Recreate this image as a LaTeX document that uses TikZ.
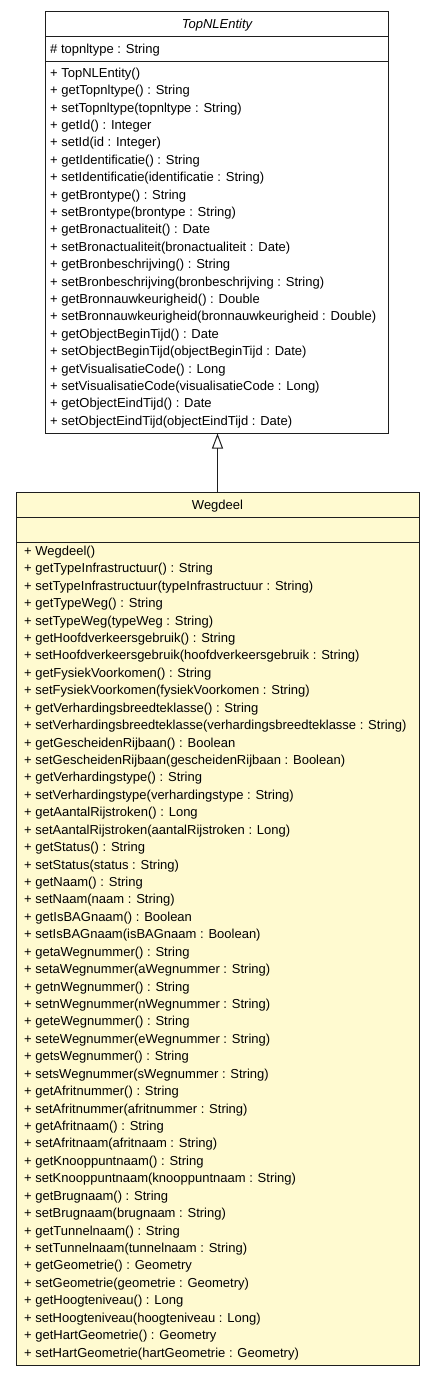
\documentclass[tikz,border=0pt]{standalone}
\usepackage{fontspec}
\setmainfont{Liberation Sans}
\usepackage{tikz}
\usetikzlibrary{arrows.meta}
\definecolor{ClassFill}{RGB}{255, 250, 208}
\definecolor{ClassLine}{RGB}{30, 30, 30}

\tikzset{
  classbox/.style={draw=ClassLine, line width=1pt, rectangle, inner sep=0pt},
  member/.style={anchor=base west, inner sep=0pt, font=\fontsize{13}{15}\selectfont},
  classname/.style={anchor=base, inner sep=0pt, font=\fontsize{13}{15}\selectfont},
}

\begin{document}
\begin{tikzpicture}[x=1pt, y=-1pt]
    %% Background
    \draw[draw=none] (0,0) rectangle (433,1376);

    %% TopNLEntity
    \node[classbox, fill=white, minimum width=343pt, minimum height=422pt] (topnl) at (217,222) {};
    \draw[ClassLine, line width=1pt] (45.5,36.7) -- (388.5,36.7) (45.5,61.7) -- (388.5,61.7);

    \node[classname] (topnlName) at (217,28.3) {\itshape TopNLEntity};
    \node[member] (topnlAttr) at (50,53.3) {\# topnltype : String};
    \foreach \op [count=\i from 0] in {
        {+ TopNLEntity()},
        {+ getTopnltype() : String},
        {+ setTopnltype(topnltype : String)},
        {+ getId() : Integer},
        {+ setId(id : Integer)},
        {+ getIdentificatie() : String},
        {+ setIdentificatie(identificatie : String)},
        {+ getBrontype() : String},
        {+ setBrontype(brontype : String)},
        {+ getBronactualiteit() : Date},
        {+ setBronactualiteit(bronactualiteit : Date)},
        {+ getBronbeschrijving() : String},
        {+ setBronbeschrijving(bronbeschrijving : String)},
        {+ getBronnauwkeurigheid() : Double},
        {+ setBronnauwkeurigheid(bronnauwkeurigheid : Double)},
        {+ getObjectBeginTijd() : Date},
        {+ setObjectBeginTijd(objectBeginTijd : Date)},
        {+ getVisualisatieCode() : Long},
        {+ setVisualisatieCode(visualisatieCode : Long)},
        {+ getObjectEindTijd() : Date},
        {+ setObjectEindTijd(objectEindTijd : Date)}}
        \node[member] (topnlOp\i) at (50,77.3+17.4*\i) {\op};

    %% Wegdeel
    \node[classbox, fill=ClassFill, minimum width=403pt, minimum height=873pt] (wegdeel) at (217.5,929) {};
    \draw[ClassLine, line width=1pt] (16,517.5) -- (419,517.5) (16,542.5) -- (419,542.5);

    \node[classname] (wegdeelName) at (217.5,509.3) {Wegdeel};
    \foreach \op [count=\i from 0] in {
        {+ Wegdeel()},
        {+ getTypeInfrastructuur() : String},
        {+ setTypeInfrastructuur(typeInfrastructuur : String)},
        {+ getTypeWeg() : String},
        {+ setTypeWeg(typeWeg : String)},
        {+ getHoofdverkeersgebruik() : String},
        {+ setHoofdverkeersgebruik(hoofdverkeersgebruik : String)},
        {+ getFysiekVoorkomen() : String},
        {+ setFysiekVoorkomen(fysiekVoorkomen : String)},
        {+ getVerhardingsbreedteklasse() : String},
        {+ setVerhardingsbreedteklasse(verhardingsbreedteklasse : String)},
        {+ getGescheidenRijbaan() : Boolean},
        {+ setGescheidenRijbaan(gescheidenRijbaan : Boolean)},
        {+ getVerhardingstype() : String},
        {+ setVerhardingstype(verhardingstype : String)},
        {+ getAantalRijstroken() : Long},
        {+ setAantalRijstroken(aantalRijstroken : Long)},
        {+ getStatus() : String},
        {+ setStatus(status : String)},
        {+ getNaam() : String},
        {+ setNaam(naam : String)},
        {+ getIsBAGnaam() : Boolean},
        {+ setIsBAGnaam(isBAGnaam : Boolean)},
        {+ getaWegnummer() : String},
        {+ setaWegnummer(aWegnummer : String)},
        {+ getnWegnummer() : String},
        {+ setnWegnummer(nWegnummer : String)},
        {+ geteWegnummer() : String},
        {+ seteWegnummer(eWegnummer : String)},
        {+ getsWegnummer() : String},
        {+ setsWegnummer(sWegnummer : String)},
        {+ getAfritnummer() : String},
        {+ setAfritnummer(afritnummer : String)},
        {+ getAfritnaam() : String},
        {+ setAfritnaam(afritnaam : String)},
        {+ getKnooppuntnaam() : String},
        {+ setKnooppuntnaam(knooppuntnaam : String)},
        {+ getBrugnaam() : String},
        {+ setBrugnaam(brugnaam : String)},
        {+ getTunnelnaam() : String},
        {+ setTunnelnaam(tunnelnaam : String)},
        {+ getGeometrie() : Geometry},
        {+ setGeometrie(geometrie : Geometry)},
        {+ getHoogteniveau() : Long},
        {+ setHoogteniveau(hoogteniveau : Long)},
        {+ getHartGeometrie() : Geometry},
        {+ setHartGeometrie(hartGeometrie : Geometry)}}
        \node[member] (wegdeelOp\i) at (24,555.3+17.43*\i) {\op};

    %% Generalisation
    \draw[ClassLine, line width=1pt, -{Triangle[open, width=11pt, length=15pt]}]
        (wegdeel.north) -- (wegdeel.north |- topnl.south);
\end{tikzpicture}
\end{document}
